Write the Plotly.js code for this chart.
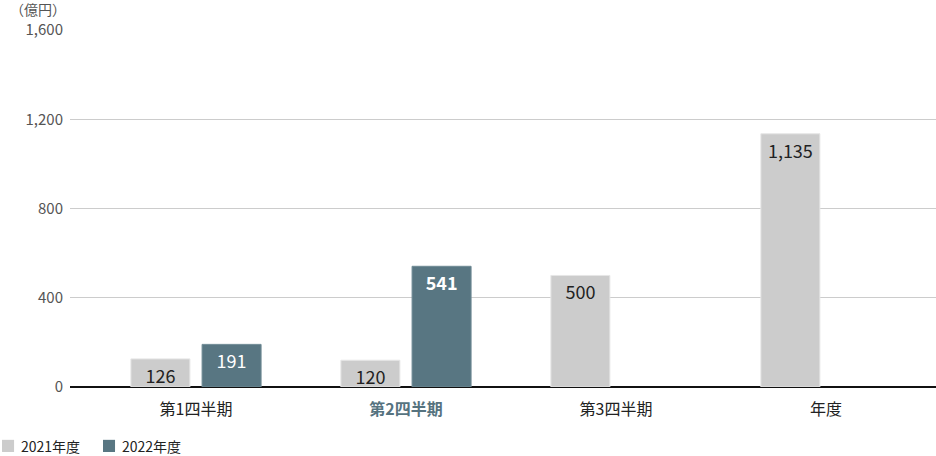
<!DOCTYPE html>
<html>
<head>
<meta charset="utf-8">
<script src="https://cdn.plot.ly/plotly-3.0.1.min.js"></script>
<style>
  html, body { margin: 0; padding: 0; background: #fff; }
  #chart { width: 936px; height: 456px; }
</style>
</head>
<body>
<div id="chart"></div>
<script>
// chart data
var categories = ['第1四半期', '第2四半期', '第3四半期', '年度'];
var tickLabels = ['第1四半期', '<b><span style="color:#56737f">第2四半期</span></b>', '第3四半期', '年度'];
var seriesNames = ['2021年度', '2022年度'];
var seriesColors = ['#cccccc', '#587682'];
var values2021 = [126, 120, 500, 1135];
var values2022 = [191, 541, null, null];
var labels2021 = ['126', '120', '500', '1,135'];
var labels2022 = ['191', '<b>541</b>', '', ''];
var yTicks = [0, 400, 800, 1200, 1600];
var yTickLabels = ['0', '400', '800', '1,200', '1,600'];

var FONT = '"Noto Sans CJK JP", "Noto Sans", sans-serif';

try {
  var trace2021 = {
    type: 'bar',
    name: seriesNames[0],
    x: categories,
    y: values2021,
    width: 0.281,
    offset: -0.31,
    text: labels2021,
    textposition: 'inside',
    insidetextanchor: 'end',
    constraintext: 'none',
    textfont: { family: FONT, size: 18, color: '#222' },
    marker: { color: seriesColors[0], line: { color: '#e6e6e6', width: 1 } },
    hoverinfo: 'none'
  };

  var trace2022 = {
    type: 'bar',
    name: seriesNames[1],
    x: categories,
    y: values2022,
    width: 0.281,
    offset: 0.029,
    text: labels2022,
    textposition: 'inside',
    insidetextanchor: 'end',
    constraintext: 'none',
    textfont: { family: FONT, size: 18, color: '#ffffff' },
    marker: { color: seriesColors[1], line: { color: '#6f8a95', width: 1 } },
    hoverinfo: 'none'
  };

  // legend drawn by hand at the bottom left (swatch + label)
  var legendX = [-0.0785, 0.0381];
  var shapes = [];
  var annotations = [];
  for (var i = 0; i < seriesNames.length; i++) {
    shapes.push({
      type: 'rect', xref: 'paper', yref: 'paper',
      x0: legendX[i], x1: legendX[i] + 0.0139,
      y0: -0.182, y1: -0.148,
      fillcolor: seriesColors[i], line: { width: 0 }
    });
    annotations.push({
      text: seriesNames[i],
      xref: 'paper', yref: 'paper',
      x: legendX[i] + 0.02, y: -0.165,
      xanchor: 'left', yanchor: 'middle',
      showarrow: false,
      font: { family: FONT, size: 14, color: '#222' }
    });
  }
  annotations.push({
    text: '（億円）',
    xref: 'paper', yref: 'paper',
    x: -0.072, y: 1.0,
    xanchor: 'left', yanchor: 'middle',
    yshift: 21,
    showarrow: false,
    font: { family: FONT, size: 14, color: '#555' }
  });

  var layout = {
    width: 936,
    height: 456,
    margin: { l: 70, r: 0, t: 30, b: 69 },
    paper_bgcolor: '#ffffff',
    plot_bgcolor: '#ffffff',
    font: { family: FONT, size: 14, color: '#222' },
    barmode: 'overlay',
    showlegend: false,
    xaxis: {
      type: 'category',
      range: [-0.6, 3.524],
      tickvals: categories,
      ticktext: tickLabels,
      tickfont: { family: FONT, size: 16, color: '#222' },
      ticks: '',
      ticklen: 0,
      ticklabelstandoff: 11,
      showgrid: false,
      showline: false,
      zeroline: false,
      fixedrange: true
    },
    yaxis: {
      range: [0, 1600],
      tickvals: yTicks,
      ticktext: yTickLabels,
      tickfont: { family: FONT, size: 15, color: '#555' },
      ticks: '',
      ticklabelstandoff: 6,
      showgrid: true,
      gridcolor: '#cccccc',
      gridwidth: 1,
      zeroline: true,
      zerolinecolor: '#111',
      zerolinewidth: 1.5,
      showline: false,
      fixedrange: true
    },
    shapes: shapes,
    annotations: annotations
  };

  Plotly.newPlot('chart', [trace2021, trace2022], layout, { displayModeBar: false, staticPlot: true });
} catch (e) {
  console.log(e);
}
</script>
</body>
</html>
